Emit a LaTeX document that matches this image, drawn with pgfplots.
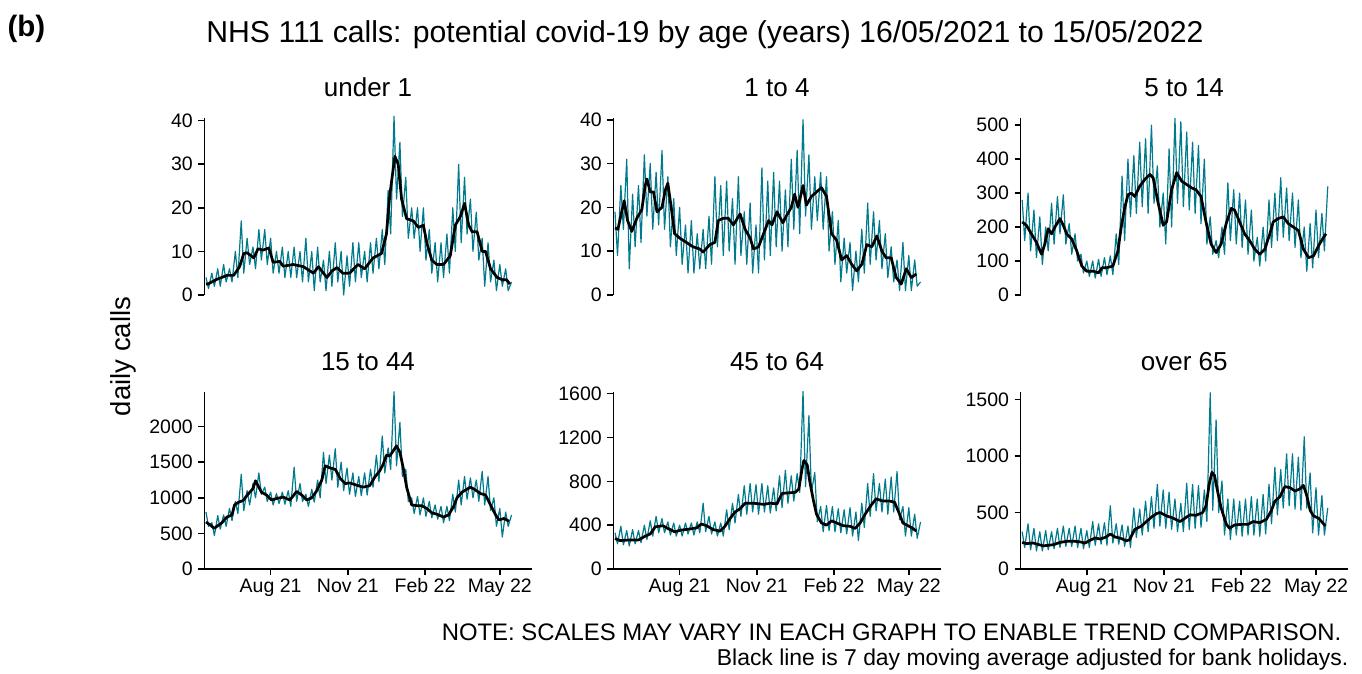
\documentclass[border=0pt]{standalone}
\usepackage{fontspec}
\setmainfont{Liberation Sans}
\usepackage{pgfplots}
\usepackage{pgfplotstable}
\pgfplotsset{compat=1.18}
\definecolor{tealline}{RGB}{0,122,140}

% daily calls, two readings a week (peak day, low day)
\pgfplotstableread{
d u1 a14 a514 a1544 a4564 o65
0 4 19 280 800 330 330
3 1.5 9 160 600 230 190
7 5 25 300 650 390 400
10 2 15 130 470 220 170
14 6 31 250 750 350 360
17 2 6 110 560 210 160
21 7 23 230 760 360 330
24 3 11 90 600 230 160
28 6 25 200 850 350 340
31 3 12 130 680 240 170
35 10 32 270 950 400 330
38 4 18 150 780 270 180
42 17 30 290 1330 440 360
45 5 15 180 820 300 190
49 13 28 295 1100 480 380
52 7 16 150 900 330 200
56 11 33 210 1200 460 360
59 6 15 120 1000 330 200
63 15 27 180 1350 430 380
66 8 11 100 1050 310 190
70 15 22 120 1150 420 360
73 7 9 65 950 300 180
77 13 20 100 1080 400 340
80 5 7 55 900 300 190
84 10 16 100 1060 420 420
87 5 5 50 920 320 210
91 11 17 105 1080 420 400
94 4 5 55 910 310 220
98 10 14 110 1100 430 410
101 4 6 60 880 330 210
105 11 15 115 1430 600 560
108 4 6 60 950 340 230
112 10 18 180 1200 480 400
115 3 7 90 950 320 220
119 13 27 350 1050 430 390
122 3 11 160 880 300 200
126 10 25 400 1120 420 380
129 1 9 230 940 300 190
133 11 26 410 1250 540 540
136 3 10 240 1000 360 280
140 8 22 450 1640 600 530
143 1 7 260 1200 420 300
147 10 27 460 1600 680 600
150 2 9 240 1250 480 330
154 12 19 500 1690 760 640
157 3 7 270 1150 500 360
161 10 21 380 1500 780 750
164 0 5 200 1100 520 380
168 9 16 300 1420 770 700
171 2 5 150 1050 500 360
175 12 29 430 1350 780 680
178 3 8 200 1020 520 350
182 12 26 520 1300 760 620
185 4 9 270 1030 510 330
189 10 28 510 1350 740 580
192 3 11 260 1040 530 330
196 12 26 480 1400 850 760
199 5 10 250 1150 560 350
203 13 24 450 1600 900 750
206 6 11 240 1230 600 360
210 15 31 440 1870 850 740
213 7 15 210 1350 620 370
217 24 33 400 1700 870 700
220 14 14 150 1400 700 420
224 41 40 230 2490 1620 1560
227 22 18 120 1450 750 520
231 35 32 160 2060 1400 1320
234 18 15 110 1300 700 500
238 27 27 200 1400 880 780
241 13 17 120 950 430 300
245 20 28 330 1000 570 620
248 13 15 160 780 340 260
252 20 27 310 1020 580 620
255 10 10 150 760 350 300
259 20 19 300 1000 570 600
262 8 7 140 740 340 290
266 15 17 280 950 550 620
269 5 3 120 720 330 300
273 12 13 250 900 540 640
276 3 5 100 700 320 300
280 12 12 170 880 560 620
283 4 1 85 650 300 290
287 14 10 200 880 520 660
290 5 3 100 680 260 310
294 20 15 280 1050 600 750
297 10 5 140 800 380 400
301 30 21 300 1250 780 900
304 12 7 160 900 480 480
308 27 19 345 1300 870 880
311 14 8 170 980 530 540
315 22 17 315 1280 780 1020
318 10 6 160 1000 520 560
322 19 14 300 1250 820 1020
325 8 4 140 950 500 530
329 13 11 280 1370 840 990
332 2 3 110 900 520 520
336 12 8 200 1300 890 1170
339 3 1 70 820 450 540
343 8 12 210 1000 570 850
346 1 1 80 600 300 320
350 7 9 250 850 560 720
353 2 1 110 450 300 300
357 6 8 240 800 500 650
360 1 2 130 600 280 300
364 3 3 320 760 430 540
}\daily

\pgfplotsset{
  panel/.style={
    scale only axis, width=327.4pt, height=177pt,
    xmin=-2, xmax=388, ymin=0,
    axis line style={line width=1.6pt, black},
    tick style={line width=1.6pt, black},
    tick align=outside, major tick length=6pt,
    ticklabel style={font=\fontsize{19.5}{22}\selectfont},
    yticklabel style={xshift=-2pt},
    /pgf/number format/assume math mode=true,
    /pgf/number format/1000 sep={},
    scaled y ticks=false,
    title style={at={(0.5,1)}, anchor=base, yshift=15.5pt, inner sep=0pt,
      font=\fontsize{26}{30}\selectfont},
    clip=false,
  },
  upper/.style={panel, axis y line*=left, axis x line=none, xtick=\empty},
  lower/.style={
    panel, axis y line*=left, axis x line*=bottom,
    xtick={77,169,261,350},
    xticklabels={Aug 21, Nov 21, Feb 22, May 22},
  },
  daily/.style={tealline, line width=1.2pt, line join=round, no markers},
  avg/.style={black, line width=2.7pt, line join=round, no markers},
}

\begin{document}
\begin{tikzpicture}[x=1pt,y=1pt]
\useasboundingbox (0,0) rectangle (1362,673);

\node[anchor=base, inner sep=0pt, font=\fontsize{30.2}{34}\selectfont] at (705,630.5)
  {NHS 111 calls: potential covid-19 by age (years) 16/05/2021 to 15/05/2022};
\node[anchor=base west, inner sep=0pt, font=\bfseries\fontsize{29.5}{34}\selectfont] at (7.3,636.5) {(b)};
\node[rotate=90, anchor=base, inner sep=0pt, font=\fontsize{27.5}{31}\selectfont] at (130,316.5) {daily calls};

% under 1
\begin{axis}[upper, at={(204.3pt,378pt)}, anchor=south west, ymax=40.6,
  ytick={0,10,20,30,40}, title={under 1}]
\addplot[daily] table[x=d, y=u1] {\daily};
\addplot[avg] coordinates {(0,2.5)(3,2.6)(13,3.6)(25,4.5)(33,4.5)(40,6.5)(45,9.5)(49,9.7)(57,8.5)(62,10.6)(68,10.3)(75,10.8)(80,7.5)(88,7.7)(92,6.6)(104,7)(116,6.5)(128,5)(134,6.5)(144,4)(150,5.5)(156,6.3)(163,5)(171,5)(181,7)(189,6)(199,8.5)(209,9.5)(215,14)(219,23)(225,31.8)(229,30)(233,22)(239,17.5)(247,17)(253,15.5)(259,16)(263,12)(269,8)(275,7)(283,7)(291,9)(297,16)(303,18)(308,21)(313,16)(317,14.5)(323,14.5)(329,10)(333,10)(339,6)(347,4)(353,3.5)(358,3.5)(362,2.5)};
\end{axis}

% 1 to 4
\begin{axis}[upper, at={(613.3pt,378pt)}, anchor=south west, ymax=40.4,
  ytick={0,10,20,30,40}, title={1 to 4}]
\addplot[daily] table[x=d, y=a14] {\daily};
\addplot[avg] coordinates {(0,15.3)(3.5,15)(8,19)(11,21.5)(15,17)(20,14.5)(26,17.5)(32,19.5)(36,25)(38,26.5)(42,23.5)(46,23.5)(50,19)(56,20)(60,24)(63,25.5)(67,20)(71,14)(77,13)(85,12)(93,11)(101,10.5)(105,9.8)(113,11.5)(119,12)(123,17)(129,17.5)(135,17.5)(141,16)(149,18.5)(155,15)(161,13)(165,10.5)(171,11)(177,14)(183,17)(187,16)(193,19)(200,16.5)(204,18)(210,20)(214,23)(218,20)(224,25)(228,20.5)(234,22.5)(240,23.5)(246,24.5)(252,22.5)(258,14)(264,12.5)(270,8)(276,9)(282,7)(288,5.5)(294,7)(300,11.5)(306,11)(312,13.5)(318,10)(323,8.5)(329,8.5)(335,4)(341,2.5)(347,6)(353,4)(359,4.8)};
\end{axis}

% 5 to 14
\begin{axis}[upper, at={(1020.5pt,378pt)}, anchor=south west, ymax=521,
  ytick={0,100,200,300,400,500}, title={5 to 14}]
\addplot[daily] table[x=d, y=a514] {\daily};
\addplot[avg] coordinates {(0,215)(5,205)(11,180)(17,155)(23,120)(27,150)(31,195)(35,180)(39,200)(45,225)(49,205)(53,180)(59,165)(65,130)(71,85)(77,70)(85,70)(91,65)(95,80)(100,80)(108,85)(114,130)(118,200)(122,255)(126,295)(130,300)(134,290)(140,320)(146,340)(152,355)(156,345)(162,270)(168,205)(172,215)(178,310)(184,360)(190,335)(196,325)(202,315)(207,310)(213,290)(219,215)(225,150)(231,125)(237,150)(243,210)(249,255)(253,250)(259,215)(265,180)(271,160)(277,135)(283,120)(289,135)(295,180)(299,215)(305,225)(311,230)(317,210)(323,200)(329,190)(335,135)(341,110)(347,115)(353,145)(359,170)(362,180)};
\end{axis}

% 15 to 44
\begin{axis}[lower, at={(204.3pt,104pt)}, anchor=south west, ymax=2487,
  ytick={0,500,1000,1500,2000}, title={15 to 44}]
\addplot[daily] table[x=d, y=a1544] {\daily};
\addplot[avg] coordinates {(0,660)(6,610)(10,570)(12,590)(19,650)(25,730)(31,760)(34,900)(39,940)(44,960)(50,1050)(56,1130)(59,1240)(66,1080)(72,1040)(78,970)(84,990)(92,1010)(100,970)(108,1090)(114,1040)(120,970)(126,1000)(132,1100)(138,1250)(142,1450)(148,1420)(154,1400)(160,1270)(166,1200)(171,1210)(179,1180)(187,1150)(195,1170)(201,1290)(207,1380)(211,1470)(215,1600)(219,1590)(223,1660)(227,1730)(231,1640)(235,1420)(239,1150)(245,900)(251,890)(257,890)(263,850)(269,790)(275,770)(283,730)(289,760)(295,880)(299,1000)(305,1080)(315,1150)(321,1110)(327,1060)(333,1040)(339,900)(345,760)(349,690)(355,710)(361,670)};
\end{axis}

% 45 to 64
\begin{axis}[lower, at={(613.3pt,104pt)}, anchor=south west, ymax=1615,
  ytick={0,400,800,1200,1600}, title={45 to 64}]
\addplot[daily] table[x=d, y=a4564] {\daily};
\addplot[avg] coordinates {(0,278)(6,260)(18,265)(28,265)(36,300)(42,320)(48,385)(57,395)(63,370)(71,340)(79,355)(89,365)(97,375)(103,410)(109,395)(117,360)(125,345)(131,390)(137,460)(143,520)(149,550)(155,600)(165,600)(177,590)(185,600)(193,595)(199,690)(207,695)(215,700)(219,730)(223,920)(225,990)(229,950)(232,800)(236,640)(240,500)(246,420)(252,400)(258,440)(264,420)(272,395)(280,390)(286,370)(292,420)(298,500)(304,570)(311,640)(319,620)(327,620)(333,610)(339,500)(343,420)(349,395)(355,370)(359,345)};
\end{axis}

% over 65
\begin{axis}[lower, at={(1020.5pt,104pt)}, anchor=south west, ymax=1567,
  ytick={0,500,1000,1500}, title={over 65}]
\addplot[daily] table[x=d, y=o65] {\daily};
\addplot[avg] coordinates {(0,235)(5,225)(13,230)(25,205)(37,215)(45,235)(53,245)(63,245)(69,240)(75,230)(81,255)(87,275)(93,265)(99,280)(105,310)(110,285)(118,270)(124,250)(128,260)(134,350)(142,380)(148,420)(154,460)(160,490)(164,500)(172,470)(180,450)(188,420)(194,450)(200,480)(207,475)(215,500)(219,560)(223,760)(226,855)(229,830)(233,680)(237,540)(243,400)(247,360)(253,390)(261,395)(269,395)(275,420)(283,410)(291,440)(297,520)(301,600)(307,640)(313,730)(319,720)(325,690)(331,710)(335,740)(339,650)(343,520)(347,470)(353,450)(359,400)(361,380)};
\end{axis}

\node[anchor=base east, inner sep=0pt, font=\fontsize{23.9}{27}\selectfont] at (1341.5,33)
  {NOTE: SCALES MAY VARY IN EACH GRAPH TO ENABLE TREND COMPARISON.};
\node[anchor=base east, inner sep=0pt, font=\fontsize{22.9}{27}\selectfont] at (1348.5,8)
  {Black line is 7 day moving average adjusted for bank holidays.};
\end{tikzpicture}
\end{document}
